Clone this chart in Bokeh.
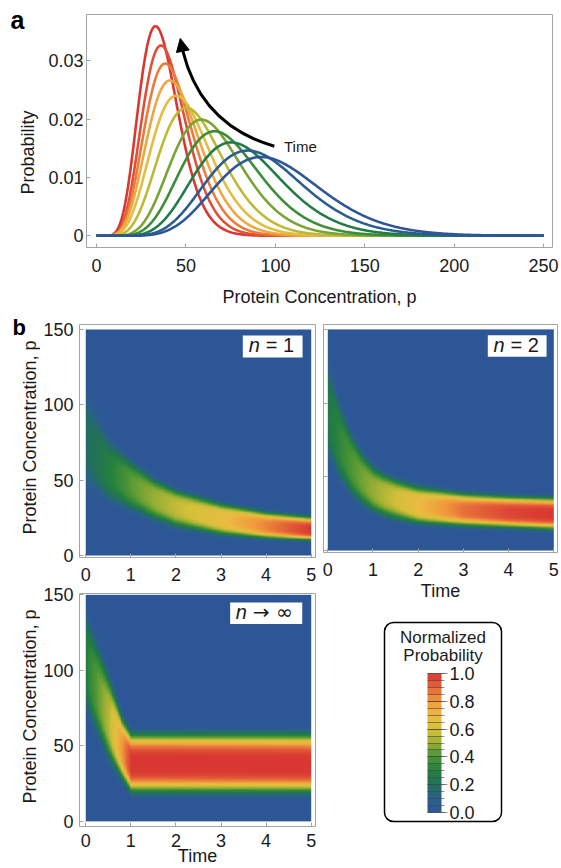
import math
import numpy as np
from bokeh.plotting import figure
from bokeh.models import (Range1d, FixedTicker, CustomJSTickFormatter, Label, Arrow,
                          NormalHead, LinearColorMapper, BoxAnnotation, ColorBar,
                          PrintfTickFormatter)
from bokeh.layouts import column, row
from bokeh.embed import file_html
from bokeh.resources import INLINE

FONT = "Liberation Sans"
TXT = "#1a1a1a"
FRAME = "#a3a3a3"

# ---------------- data: panel a ----------------
conc_ticks = [0, 50, 100, 150, 200, 250]
prob_ticks = [0, 0.01, 0.02, 0.03]
curve_mode = [33.0, 36.0, 38.4, 41.0, 44.6, 50.2, 58.6, 66.0, 75.3, 84.6, 92.0]
curve_peak = [0.0359, 0.0326, 0.0295, 0.0266, 0.0240, 0.0219, 0.0199, 0.0179, 0.0160, 0.0146, 0.0135]
curve_level = [1.0, 0.95, 0.86, 0.76, 0.66, 0.56, 0.46, 0.36, 0.27, 0.08, 0.0]

# ---------------- colour scale ----------------
scale_colors = ["#2c5696", "#2b5f8c", "#22705a", "#24803f", "#4a9535", "#97ae33",
                "#d4c03a", "#ebbb42", "#f09a3c", "#e6663a", "#d93832"]
legend_ticks = [0.0, 0.2, 0.4, 0.6, 0.8, 1.0]
legend_step = 0.05

# ---------------- data: panel b ----------------
time_ticks = [0, 1, 2, 3, 4, 5]
p_ticks = [0, 50, 100, 150]

n1_time = [0, 0.5, 1, 1.5, 2, 3, 4, 5]
n1_center = [75, 57, 47, 38, 32, 24, 19, 16.5]
n1_low = [42, 33, 28, 22, 17, 12, 10, 9]
n1_high = [112, 80, 65, 53, 45, 36, 30, 26.5]
n1_peak = [0.17, 0.29, 0.42, 0.5, 0.57, 0.68, 0.84, 1.0]

n2_time = [0, 0.25, 0.5, 0.75, 1, 1.25, 1.5, 2, 3, 4, 5]
n2_center = [92, 73, 59, 48.5, 41, 37.5, 35, 30, 27, 25.5, 24.5]
n2_low = [60, 45, 35, 28.5, 24, 21, 19, 16.5, 15, 14, 12.6]
n2_high = [132, 104, 83, 69, 59, 54, 50, 45, 40, 38, 37]
n2_peak = [0.25, 0.33, 0.4, 0.45, 0.5, 0.55, 0.6, 0.7, 0.88, 0.97, 1.0]

ninf_time = [0, 0.5, 0.8, 1.0, 5]
ninf_center = [103, 68, 48, 38, 37]
ninf_low = [70, 38, 25, 17, 17]
ninf_high = [142, 100, 71, 60, 60]
ninf_peak = [0.3, 0.55, 0.8, 1.0, 1.0]


# ---------------- helpers ----------------
def hex2rgb(h):
    h = h.lstrip("#")
    return [int(h[i:i + 2], 16) for i in (0, 2, 4)]


def make_palette(stops, n=256):
    rgb = np.array([hex2rgb(s) for s in stops], dtype=float)
    xs = np.linspace(0, 1, len(stops))
    out = []
    for v in np.linspace(0, 1, n):
        c = [np.interp(v, xs, rgb[:, k]) for k in range(3)]
        out.append("#%02x%02x%02x" % tuple(int(round(q)) for q in c))
    return out


PALETTE = make_palette(scale_colors)


def color_at(v):
    return PALETTE[int(round(min(max(v, 0), 1) * 255))]


def gamma_shape(mode, peak):
    target = -math.log(peak * mode)
    lo, hi = 0.3, 400.0
    for _ in range(80):
        a = 0.5 * (lo + hi)
        g = a + math.lgamma(a + 1) - (a + 1) * math.log(a)
        if g > target:
            lo = a
        else:
            hi = a
    return 0.5 * (lo + hi)


def field(times, center, low, high, peak, nt=300, npp=300):
    t = np.linspace(0, 5, nt)
    pp = np.linspace(0, 150, npp)
    c = np.interp(t, times, center)
    lo = np.interp(t, times, low)
    hi = np.interp(t, times, high)
    pk = np.interp(t, times, peak)
    d = pp[:, None] - c[None, :]
    s = np.where(d < 0, (c - lo)[None, :] / 1.435, (hi - c)[None, :] / 1.435)
    return pk[None, :] * np.exp(-0.5 * np.abs(d / s) ** 4)


def style(p, tick_font="18px"):
    p.grid.visible = False
    p.outline_line_color = FRAME
    p.outline_line_width = 1
    p.background_fill_color = "white"
    p.border_fill_color = "white"
    for ax in p.axis:
        ax.axis_line_color = None
        ax.major_tick_in = 4
        ax.major_tick_out = 0
        ax.major_tick_line_color = FRAME
        ax.minor_tick_line_color = None
        ax.major_label_text_font = FONT
        ax.major_label_text_font_size = tick_font
        ax.major_label_text_color = TXT
        ax.axis_label_text_font = FONT
        ax.axis_label_text_font_size = "18px"
        ax.axis_label_text_font_style = "normal"
        ax.axis_label_text_color = TXT


def mk(width, height, xr, yr, bl, br, bt, bb):
    p = figure(width=width, height=height, x_range=Range1d(*xr), y_range=Range1d(*yr),
               output_backend="svg", toolbar_location=None,
               min_border_left=bl, min_border_right=br, min_border_top=bt, min_border_bottom=bb)
    style(p)
    return p


def strip(width, height, yr, bt, bb):
    s = figure(width=width, height=height, x_range=Range1d(0, width), y_range=Range1d(*yr),
               output_backend="svg", toolbar_location=None, x_axis_location=None,
               y_axis_location=None, min_border_left=0, min_border_right=0,
               min_border_top=bt, min_border_bottom=bb)
    s.grid.visible = False
    s.outline_line_color = None
    return s


def text(p, x, y, t, size="18px", style_="normal", angle=0.0, align="left",
         baseline="middle", color=TXT, font=FONT):
    p.add_layout(Label(x=x, y=y, text=t, text_font=font, text_font_size=size,
                       text_font_style=style_, text_color=color, angle=angle,
                       text_align=align, text_baseline=baseline))


# ---------------- panel a ----------------
PA_Y = (-0.002, 0.0379)
fa = strip(45, 310, PA_Y, 14, 63)
text(fa, 10, 0.0370, "a", "25px", "bold", color="black")
text(fa, 27, 0.01427, "Probability", angle=math.pi / 2, align="center")

pa = mk(513, 310, (-5.6, 254.9), PA_Y, 40, 6, 14, 63)
pa.xaxis.ticker = FixedTicker(ticks=conc_ticks)
pa.yaxis.ticker = FixedTicker(ticks=prob_ticks)
pa.yaxis.formatter = CustomJSTickFormatter(code="return tick == 0 ? '0' : tick.toFixed(2);")
pa.xaxis.axis_label = "Protein Concentration, p"
pa.xaxis.major_label_standoff = 11
pa.xaxis.axis_label_standoff = 12
pa.yaxis.major_label_standoff = 3

xs = np.linspace(0, 250, 501)
for m, pk, lv in zip(curve_mode, curve_peak, curve_level):
    a = gamma_shape(m, pk)
    ys = pk * (xs / m) ** a * np.exp(a * (1 - xs / m))
    pa.line(xs, ys, line_color=color_at(lv), line_width=2.6)

# time arrow (annotation)
pa.quadratic(x0=[99.4], y0=[0.01535], x1=[48.2], y1=[0.0317], cx=[58.5], cy=[0.0189],
             line_color="black", line_width=3)
pa.add_layout(Arrow(end=NormalHead(size=13, fill_color="black", line_color="black", line_width=1),
                    x_start=48.2, y_start=0.0317, x_end=46.8, y_end=0.0338,
                    line_color="black", line_width=3))
text(pa, 104.8, 0.01535, "Time", "15px", baseline="alphabetic")

# ---------------- panel b ----------------
mapper = LinearColorMapper(palette=PALETTE, low=0, high=1)


def heat(p, times, center, low, high, peak):
    img = field(times, center, low, high, peak)
    p.image(image=[img], x=0, y=0, dw=5, dh=150, color_mapper=mapper)
    p.xaxis.ticker = FixedTicker(ticks=time_ticks)
    p.yaxis.ticker = FixedTicker(ticks=p_ticks)
    p.xaxis.major_label_standoff = 10


def nlabel(p, box, nx, rx, ty, rest, rest_font=FONT):
    p.add_layout(BoxAnnotation(left=box[0], right=box[1], top=box[2], bottom=box[3],
                               fill_color="white", fill_alpha=1, line_color=None))
    text(p, nx, ty, "n", "20px", "italic")
    text(p, rx, ty, rest, "20px", font=rest_font)


# left strip with panel letter and axis titles (y measured in px from strip bottom)
fb = strip(40, 558, (0, 558), 0, 0)
text(fb, 12, 541, "b", "22px", "bold", color="black")
text(fb, 29, 431, "Protein Concentration, p", angle=math.pi / 2, align="center")
text(fb, 29, 162, "Protein Concentration, p", angle=math.pi / 2, align="center")

# n = 1
b1 = mk(278, 275, (-0.139, 5.095), (-1.32, 153.32), 38, 3, 14, 28)
heat(b1, n1_time, n1_center, n1_low, n1_high, n1_peak)
b1.yaxis.major_label_standoff = 6
nlabel(b1, (3.483, 4.808, 146.0, 131.4), 3.615, 3.99, 139.4, "= 1")

# n -> infinity
b3 = mk(278, 283, (-0.139, 5.095), (-3.39, 150.88), 38, 3, 8, 41)
heat(b3, ninf_time, ninf_center, ninf_low, ninf_high, ninf_peak)
b3.xaxis.axis_label = "Time"
b3.yaxis.major_label_standoff = 6
b3.xaxis.major_label_standoff = 7
b3.xaxis.axis_label_standoff = -4
nlabel(b3, (3.202, 4.801, 144.97, 130.72), 3.328, 3.704, 138.66, "\u2192 \u221e",
       rest_font="DejaVu Sans")

# n = 2
b2 = mk(243, 293, (-0.095, 5.082), (-1.32, 153.32), 5, 4, 14, 46)
heat(b2, n2_time, n2_center, n2_low, n2_high, n2_peak)
b2.yaxis.formatter = CustomJSTickFormatter(code="return '';")
b2.yaxis.major_label_standoff = 0
b2.xaxis.axis_label = "Time"
b2.xaxis.axis_label_standoff = 2
nlabel(b2, (3.54, 4.84, 146.0, 131.4), 3.666, 4.042, 139.4, "= 2")

# ---------------- colour legend ----------------
levels = np.arange(0, 1 + 1e-9, legend_step)
band_colors = [color_at(0.5 * (a + b)) for a, b in zip(levels[:-1], levels[1:])]
band_mapper = LinearColorMapper(palette=band_colors, low=0, high=1)

lg = strip(243, 265, (0, 265), 0, 0)
lg.min_border_left = 5
lg.min_border_right = 4
lg.x_range = Range1d(0, 234)
cb = ColorBar(color_mapper=band_mapper, orientation="vertical", width=14, height=139,
              location=(94, 46), padding=10, margin=0,
              ticker=FixedTicker(ticks=legend_ticks, minor_ticks=list(levels)),
              formatter=PrintfTickFormatter(format="%.1f"),
              major_tick_in=14, major_tick_out=6, minor_tick_in=14, minor_tick_out=3,
              major_tick_line_color="#444444", major_tick_line_alpha=0.6,
              minor_tick_line_color="#444444", minor_tick_line_alpha=0.6,
              bar_line_color=None, background_fill_color=None, border_line_color=None,
              label_standoff=2, major_label_text_font=FONT,
              major_label_text_font_size="18px", major_label_text_color=TXT)
lg.add_layout(cb)
lg.add_layout(BoxAnnotation(left=61, right=178, top=246, bottom=47,
                            fill_color=None, fill_alpha=0, line_color="black",
                            line_alpha=1, line_width=1.5, border_radius=9))
text(lg, 119.5, 231, "Normalized", "17px", align="center")
text(lg, 119.5, 213, "Probability", "17px", align="center")

layout = column(row(fa, pa), row(fb, column(b1, b3), column(b2, lg)))
open("out.html", "w").write(file_html(layout, INLINE))
